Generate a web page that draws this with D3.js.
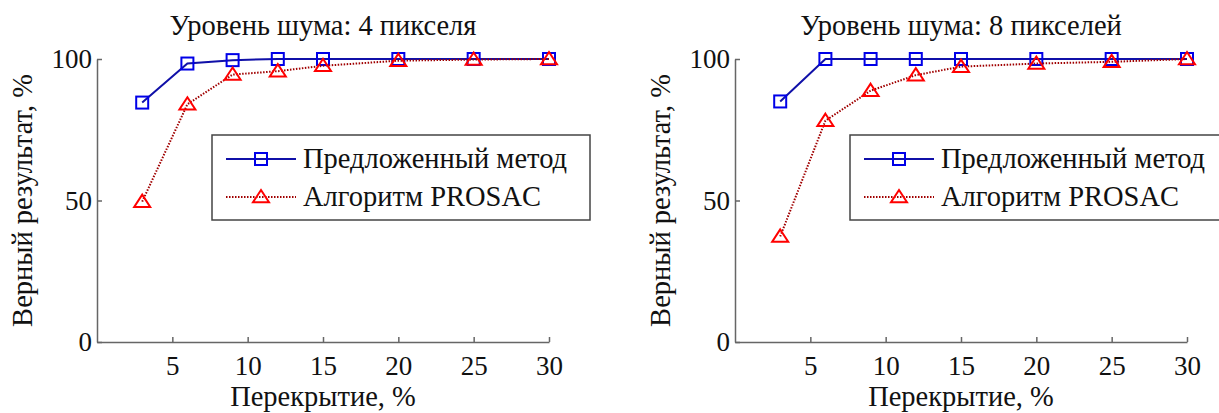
<!DOCTYPE html>
<html><head><meta charset="utf-8">
<script src="https://cdn.jsdelivr.net/npm/d3@7"></script>
</head><body style="margin:0">
<svg id="c" width="1219" height="413"></svg>
<script>
const overlap = [3, 6, 9, 12, 15, 20, 25, 30];
const xTicks = [5, 10, 15, 20, 25, 30];
const yTicks = [0, 50, 100];
const titles = ["Уровень шума: 4 пикселя", "Уровень шума: 8 пикселей"];
const seriesNames = ["Предложенный метод", "Алгоритм PROSAC"];
const proposed4 = [84.6, 98.4, 99.6, 100, 100, 100, 100, 100];
const prosac4   = [49.6, 84, 94.5, 95.7, 97.6, 99.4, 99.8, 100];
const proposed8 = [85, 100, 100, 100, 100, 100, 100, 100];
const prosac8   = [37.3, 78.2, 88.8, 94.3, 97.3, 98.4, 99.0, 100];
const xLabel = "Перекрытие, %";
const yLabel = "Верный результат, %";

const FONT = "'Liberation Serif'";
const FS = 28.5, FT = 27;
const panels = [
  {x0: 97, title: titles[0], a: proposed4, b: prosac4},
  {x0: 735, title: titles[1], a: proposed8, b: prosac8}
];
const W = 452, yTop = 59, yBottom = 342;
const svg = d3.select("#c");
const blueLine = "#1010a8", blueMark = "#0000e8", redLine = "#a00000", redMark = "#ff0000";

function txt(sel, fs) {
  return sel.attr("font-family", "Liberation Serif").attr("font-size", fs || FS)
    .style("font-family", FONT).attr("fill", "#111");
}
function square(g, x, y) {
  g.append("rect").attr("x", x - 6).attr("y", y - 6).attr("width", 12).attr("height", 12)
    .attr("fill", "none").attr("stroke", blueMark).attr("stroke-width", 2);
}
function tri(g, x, y) {
  const h = 7;
  g.append("path").attr("d", `M${x},${y - h}L${x + 8},${y + h * 0.75}L${x - 8},${y + h * 0.75}Z`)
    .attr("fill", "none").attr("stroke", redMark).attr("stroke-width", 2).attr("stroke-linejoin", "miter");
}

panels.forEach(p => {
  const x = d3.scaleLinear().domain([0, 30]).range([p.x0, p.x0 + W]);
  const y = d3.scaleLinear().domain([0, 100]).range([yBottom, yTop]);
  const g = svg.append("g");

  const xa = g.append("g").attr("transform", `translate(0,${yBottom})`)
    .call(d3.axisBottom(x).tickValues(xTicks).tickSizeInner(-5).tickSizeOuter(0).tickPadding(14));
  const ya = g.append("g").attr("transform", `translate(${p.x0},0)`)
    .call(d3.axisLeft(y).tickValues(yTicks).tickSizeInner(-5).tickSizeOuter(0).tickPadding(5));
  [xa, ya].forEach(a => {
    a.attr("font-family", "Liberation Serif").attr("font-size", FT);
    a.select(".domain").attr("stroke", "#666").attr("stroke-width", 1.5);
    a.selectAll(".tick line").attr("stroke", "#666").attr("stroke-width", 1.5);
    txt(a.selectAll(".tick text"), FT);
  });
  xa.selectAll(".tick text").attr("dy", "0.71em");
  ya.selectAll(".tick text").attr("dy", "0.33em");

  const cx = (x.range()[0] + x.range()[1]) / 2;
  txt(g.append("text").attr("x", cx).attr("y", 35).attr("text-anchor", "middle")).text(p.title);
  txt(g.append("text").attr("x", cx).attr("y", 406).attr("text-anchor", "middle")).text(xLabel);
  txt(g.append("text").attr("transform", `translate(${p.x0 - 65},${(yTop + yBottom) / 2}) rotate(-90)`)
    .attr("text-anchor", "middle")).text(yLabel);

  const line = d3.line().x((d, i) => x(overlap[i])).y(d => y(d));
  g.append("path").attr("d", line(p.a)).attr("fill", "none").attr("stroke", blueLine).attr("stroke-width", 2);
  p.a.forEach((v, i) => square(g, x(overlap[i]), y(v)));
  g.append("path").attr("d", line(p.b)).attr("fill", "none").attr("stroke", redLine)
    .attr("stroke-width", 2).attr("stroke-dasharray", "1.5,1.5");
  p.b.forEach((v, i) => tri(g, x(overlap[i]), y(v)));

  const lx = p.x0 + 115, ly = 135;
  const lg = g.append("g");
  lg.append("rect").attr("x", lx).attr("y", ly).attr("width", 378).attr("height", 85)
    .attr("fill", "#fff").attr("stroke", "#444").attr("stroke-width", 1.5);
  const r1 = ly + 24, r2 = ly + 62;
  lg.append("line").attr("x1", lx + 14).attr("x2", lx + 84).attr("y1", r1).attr("y2", r1)
    .attr("stroke", blueLine).attr("stroke-width", 2);
  square(lg, lx + 49, r1);
  lg.append("line").attr("x1", lx + 14).attr("x2", lx + 84).attr("y1", r2).attr("y2", r2)
    .attr("stroke", redLine).attr("stroke-width", 2).attr("stroke-dasharray", "1.5,1.5");
  tri(lg, lx + 49, r2);
  txt(lg.append("text").attr("x", lx + 91).attr("y", r1 + 9)).text(seriesNames[0]);
  txt(lg.append("text").attr("x", lx + 91).attr("y", r2 + 9)).text(seriesNames[1]);
});
</script>
</body></html>
